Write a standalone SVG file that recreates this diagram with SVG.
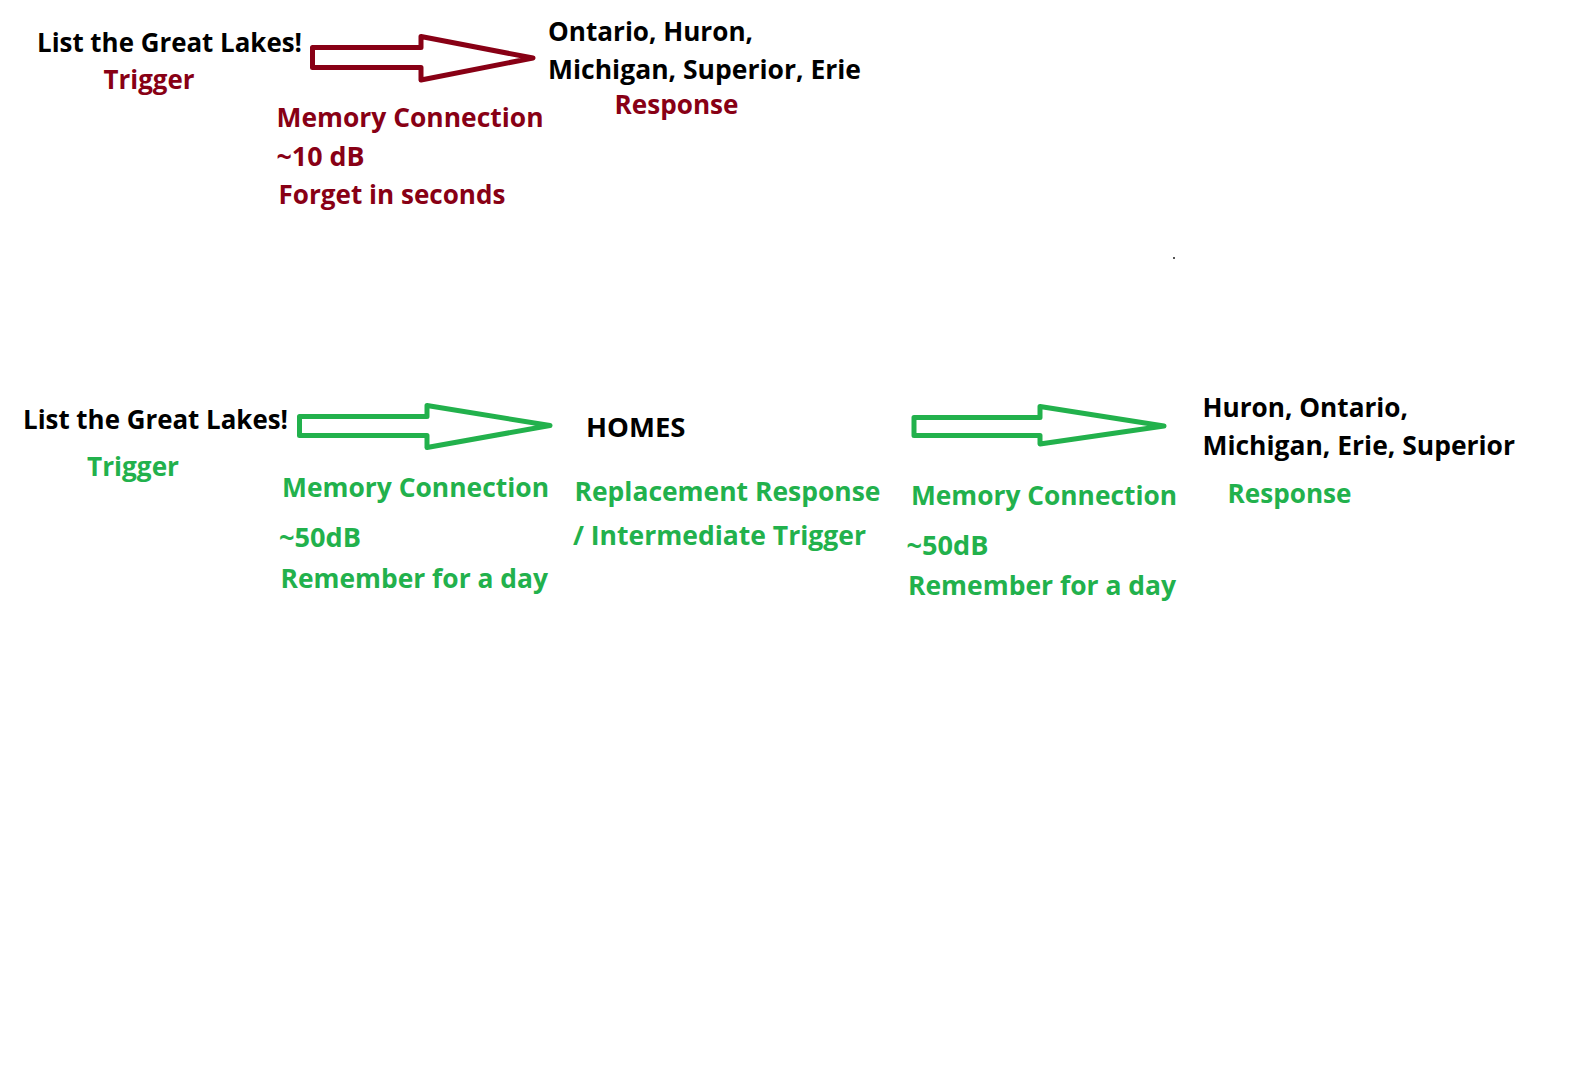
<svg xmlns="http://www.w3.org/2000/svg" width="1588" height="1071" viewBox="0 0 1588 1071">
<style>
text{font-family:"Open Sans","Liberation Sans",sans-serif;font-weight:700;font-size:26.6px}
.k{fill:#000}
.r{fill:#880015}
.g{fill:#22B14C}
.ar{fill:#fff;stroke-width:5;stroke-linejoin:round}
.arr{stroke:#880015}
.arg{stroke:#22B14C}
</style>
<rect width="1588" height="1071" fill="#fff"/>
<g id="connectors">
<polygon class="ar arr" points="312.5,47.5 421,47.5 421,36.5 533,58 421,80 421,67.5 312.5,67.5"/>
<polygon class="ar arg" points="299.5,416.5 427,416.5 427,405.5 550,425.5 427,447.5 427,435.5 299.5,435.5"/>
<polygon class="ar arg" points="914,417.5 1040,417.5 1040,406.5 1164,426 1040,444 1040,435.5 914,435.5"/>
</g>
<g id="top-trigger">
<text class="k" x="37" y="52" textLength="265" lengthAdjust="spacingAndGlyphs">List the Great Lakes!</text>
<text class="r" x="103.5" y="89" textLength="91" lengthAdjust="spacingAndGlyphs">Trigger</text>
</g>
<g id="top-connection">
<text class="r" x="276.5" y="126.5" textLength="267" lengthAdjust="spacingAndGlyphs">Memory Connection</text>
<text class="r" x="276.5" y="165.5" textLength="88" lengthAdjust="spacingAndGlyphs">~10 dB</text>
<text class="r" x="278.5" y="204" textLength="227" lengthAdjust="spacingAndGlyphs">Forget in seconds</text>
</g>
<g id="top-response">
<text class="k" x="548" y="41" textLength="205" lengthAdjust="spacingAndGlyphs">Ontario, Huron,</text>
<text class="k" x="548" y="79" textLength="313" lengthAdjust="spacingAndGlyphs">Michigan, Superior, Erie</text>
<text class="r" x="614.5" y="113.5" textLength="124" lengthAdjust="spacingAndGlyphs">Response</text>
</g>
<g id="bottom-trigger">
<text class="k" x="23" y="428.5" textLength="265" lengthAdjust="spacingAndGlyphs">List the Great Lakes!</text>
<text class="g" x="87" y="476" textLength="92" lengthAdjust="spacingAndGlyphs">Trigger</text>
</g>
<g id="bottom-connection-1">
<text class="g" x="282" y="497" textLength="267" lengthAdjust="spacingAndGlyphs">Memory Connection</text>
<text class="g" x="279" y="547" textLength="82" lengthAdjust="spacingAndGlyphs">~50dB</text>
<text class="g" x="280.5" y="587.5" textLength="267.5" lengthAdjust="spacingAndGlyphs">Remember for a day</text>
</g>
<g id="bottom-intermediate">
<text class="k" x="586" y="436.5" textLength="99.5" lengthAdjust="spacingAndGlyphs">HOMES</text>
<text class="g" x="574.5" y="501" textLength="306" lengthAdjust="spacingAndGlyphs">Replacement Response</text>
<text class="g" x="573" y="545" textLength="293" lengthAdjust="spacingAndGlyphs">/ Intermediate Trigger</text>
</g>
<g id="bottom-connection-2">
<text class="g" x="911" y="505" textLength="266" lengthAdjust="spacingAndGlyphs">Memory Connection</text>
<text class="g" x="906.5" y="555" textLength="82" lengthAdjust="spacingAndGlyphs">~50dB</text>
<text class="g" x="908" y="595" textLength="268" lengthAdjust="spacingAndGlyphs">Remember for a day</text>
</g>
<g id="bottom-response">
<text class="k" x="1202.5" y="416.5" textLength="205.5" lengthAdjust="spacingAndGlyphs">Huron, Ontario,</text>
<text class="k" x="1202.5" y="455" textLength="312.5" lengthAdjust="spacingAndGlyphs">Michigan, Erie, Superior</text>
<text class="g" x="1227.5" y="503" textLength="124" lengthAdjust="spacingAndGlyphs">Response</text>
</g>
<rect x="1173" y="257" width="2" height="2" fill="#555"/>
</svg>
